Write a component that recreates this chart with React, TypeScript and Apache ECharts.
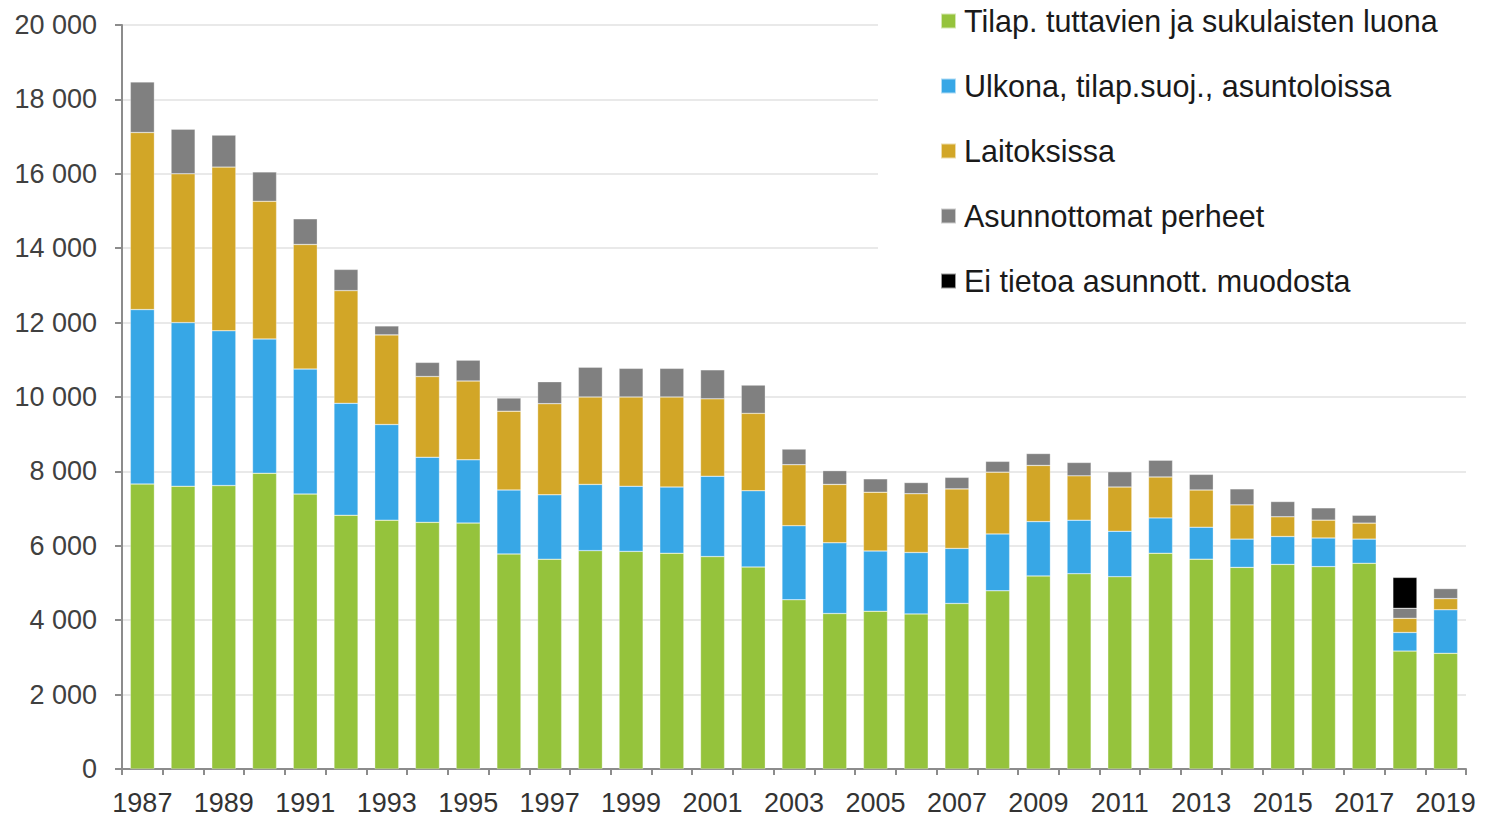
import React, { useEffect, useRef } from "react";
import * as echarts from "echarts";

const years = [
  "1987", "1988", "1989", "1990", "1991", "1992", "1993", "1994", "1995", "1996",
  "1997", "1998", "1999", "2000", "2001", "2002", "2003", "2004", "2005", "2006",
  "2007", "2008", "2009", "2010", "2011", "2012", "2013", "2014", "2015", "2016",
  "2017", "2018", "2019",
];

const tuttavat = [
  7660, 7600, 7620, 7950, 7390, 6820, 6690, 6630, 6610, 5780,
  5640, 5870, 5850, 5800, 5710, 5430, 4550, 4180, 4240, 4170,
  4450, 4790, 5190, 5250, 5170, 5800, 5640, 5420, 5500, 5440,
  5530, 3170, 3110,
];

const ulkona = [
  4690, 4400, 4160, 3610, 3360, 3010, 2570, 1750, 1700, 1720,
  1730, 1780, 1750, 1780, 2160, 2050, 1990, 1900, 1620, 1650,
  1480, 1530, 1460, 1440, 1220, 950, 860, 760, 750, 770,
  650, 500, 1170,
];

const laitoksissa = [
  4760, 4000, 4400, 3700, 3350, 3030, 2410, 2170, 2120, 2120,
  2450, 2350, 2400, 2420, 2080, 2080, 1640, 1570, 1580, 1580,
  1600, 1660, 1510, 1190, 1190, 1100, 1000, 920, 530, 480,
  430, 380, 300,
];

const perheet = [
  1360, 1200, 860, 790, 690, 570, 240, 380, 560, 350,
  590, 800, 770, 770, 780, 760, 420, 370, 360, 300,
  310, 290, 320, 360, 410, 450, 420, 430, 410, 330,
  210, 270, 270,
];

const eiTietoa = [
  null, null, null, null, null, null, null, null, null, null,
  null, null, null, null, null, null, null, null, null, null,
  null, null, null, null, null, null, null, null, null, null,
  null, 830, null,
];

const seriesNames = [
  "Tilap. tuttavien ja sukulaisten luona",
  "Ulkona, tilap.suoj., asuntoloissa",
  "Laitoksissa",
  "Asunnottomat perheet",
  "Ei tietoa asunnott. muodosta",
];

const colors = ["#95C33C", "#37A7E6", "#D2A627", "#808080", "#000000"];

export default function App() {
  const ref = useRef<HTMLDivElement>(null);

  useEffect(() => {
    if (!ref.current) return;
    const chart = echarts.init(ref.current, null, { renderer: "svg" });
    const datasets = [tuttavat, ulkona, laitoksissa, perheet, eiTietoa];
    const font = "'Liberation Sans', Arial, sans-serif";

    chart.setOption({
      animation: false,
      backgroundColor: "#ffffff",
      textStyle: { fontFamily: font },
      grid: { left: 122, right: 21, top: 25, bottom: 48, containLabel: false },
      legend: {
        orient: "vertical",
        left: 878,
        top: 0,
        padding: [5, 60, 17, 62],
        backgroundColor: "#ffffff",
        itemWidth: 15,
        itemHeight: 15,
        itemGap: 33,
        icon: "rect",
        z: 10,
        data: seriesNames,
        textStyle: {
          fontFamily: font,
          fontSize: 30.5,
          color: "#1a1a1a",
          lineHeight: 32,
          padding: [0, 0, 0, 3],
        },
      },
      xAxis: {
        type: "category",
        data: years,
        boundaryGap: true,
        axisLine: { lineStyle: { color: "#8c8c8c", width: 2 } },
        axisTick: {
          show: true,
          interval: 0,
          alignWithLabel: false,
          length: 6,
          lineStyle: { color: "#8c8c8c", width: 2 },
        },
        axisLabel: {
          interval: 1,
          fontSize: 27,
          color: "#333333",
          margin: 20,
          fontFamily: font,
        },
      },
      yAxis: {
        type: "value",
        min: 0,
        max: 20000,
        interval: 2000,
        axisLine: { show: true, lineStyle: { color: "#8c8c8c", width: 2 } },
        axisTick: { show: true, length: 7, lineStyle: { color: "#8c8c8c", width: 2 } },
        splitLine: { show: true, lineStyle: { color: "#e2e2e2", width: 1.5 } },
        axisLabel: {
          fontSize: 27,
          color: "#404040",
          margin: 25,
          fontFamily: font,
          formatter: (v: number) =>
            String(v).replace(/\B(?=(\d{3})+(?!\d))/g, " "),
        },
      },
      series: seriesNames.map((name, i) => ({
        name,
        type: "bar",
        stack: "total",
        data: datasets[i],
        barCategoryGap: "41%",
        itemStyle: {
          color: colors[i],
          borderColor: "rgba(255,255,255,0.6)",
          borderWidth: 0.5,
        },
      })),
    });

    return () => chart.dispose();
  }, []);

  return (
    <div
      ref={ref}
      style={{ position: "fixed", left: 0, top: 0, width: 1487, height: 817 }}
    />
  );
}
